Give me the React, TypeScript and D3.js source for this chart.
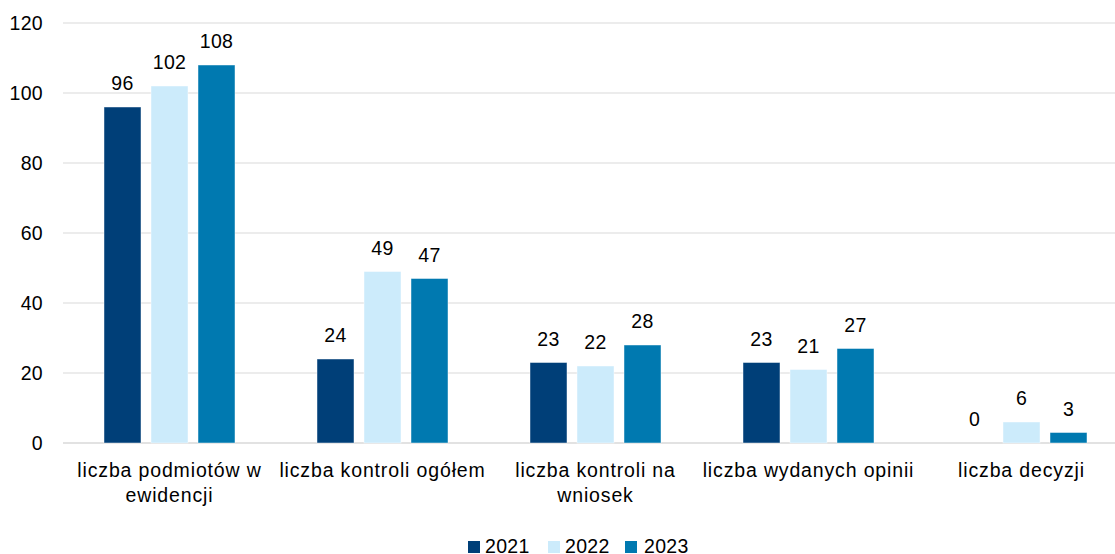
import React from "react";
import * as d3 from "d3";

const categories = [
  ["liczba podmiotów w", "ewidencji"],
  ["liczba kontroli ogółem"],
  ["liczba kontroli na", "wniosek"],
  ["liczba wydanych opinii"],
  ["liczba decyzji"],
];
const series = ["2021", "2022", "2023"];
const values2021 = [96, 24, 23, 23, 0];
const values2022 = [102, 49, 22, 21, 6];
const values2023 = [108, 47, 28, 27, 3];
const yTicks = [0, 20, 40, 60, 80, 100, 120];
const colors = ["#003F78", "#CCEBFB", "#0079B0"];

const W = 1115;
const H = 554;
const left = 63;
const right = 1128;
const top = 23;
const bottom = 443;
const font = "'Liberation Sans', Arial, sans-serif";
const fs = 19.5;
const groupFrac = 0.615;

export default function App() {
  const all = [values2021, values2022, values2023];
  const x0 = d3
    .scaleBand<number>()
    .domain(d3.range(categories.length))
    .range([left, right])
    .paddingInner(0)
    .paddingOuter(0);
  const x1 = d3
    .scaleBand<number>()
    .domain(d3.range(series.length))
    .range([0, x0.bandwidth() * groupFrac])
    .paddingInner(0.213)
    .paddingOuter(0);
  const groupOffset = (x0.bandwidth() - x0.bandwidth() * groupFrac) / 2;
  const y = d3.scaleLinear().domain([0, 120]).range([bottom, top]);

  const legendItems = [
    { x: 468, tx: 485 },
    { x: 548, tx: 565 },
    { x: 625, tx: 644 },
  ];

  return (
    <svg
      width={W}
      height={H}
      style={{ position: "absolute", left: 0, top: 0, fontFamily: font }}
    >
      <rect width={W} height={H} fill="#fff" />
      {yTicks.map((t) => (
        <g key={t}>
          <line
            x1={left}
            x2={right}
            y1={y(t)}
            y2={y(t)}
            stroke="#D9D9D9"
            strokeWidth={t === 0 ? 1.5 : 1.2}
          />
          <text
            x={43}
            y={y(t)}
            dy="0.35em"
            textAnchor="end"
            fontSize={fs}
            letterSpacing={0.3}
            fill="#000"
          >
            {t}
          </text>
        </g>
      ))}
      {categories.map((cat, ci) => (
        <g key={ci} transform={`translate(${x0(ci)! + groupOffset},0)`}>
          {all.map((vals, si) => {
            const v = vals[ci];
            const bx = x1(si)!;
            const bw = x1.bandwidth();
            return (
              <g key={si}>
                {v > 0 && (
                  <rect
                    x={bx}
                    y={y(v)}
                    width={bw}
                    height={bottom - y(v)}
                    fill={colors[si]}
                    stroke="#ffffff"
                    strokeOpacity={0.6}
                    strokeWidth={0.75}
                  />
                )}
                <text
                  x={bx + bw / 2}
                  y={y(v) - 17}
                  textAnchor="middle"
                  fontSize={fs}
                  letterSpacing={0.3}
                  fill="#000"
                >
                  {v}
                </text>
              </g>
            );
          })}
        </g>
      ))}
      {categories.map((cat, ci) => (
        <text
          key={ci}
          x={x0(ci)! + x0.bandwidth() / 2}
          y={477}
          textAnchor="middle"
          fontSize={fs}
          letterSpacing={0.85}
          fill="#000"
        >
          {cat.map((line, li) => (
            <tspan key={li} x={x0(ci)! + x0.bandwidth() / 2} dy={li === 0 ? 0 : 25}>
              {line}
            </tspan>
          ))}
        </text>
      ))}
      {series.map((s, si) => (
        <g key={s}>
          <rect
            x={legendItems[si].x}
            y={541}
            width={12}
            height={12}
            fill={colors[si]}
          />
          <text
            x={legendItems[si].tx}
            y={553}
            fontSize={fs}
            letterSpacing={0.3}
            fill="#000"
          >
            {s}
          </text>
        </g>
      ))}
    </svg>
  );
}
